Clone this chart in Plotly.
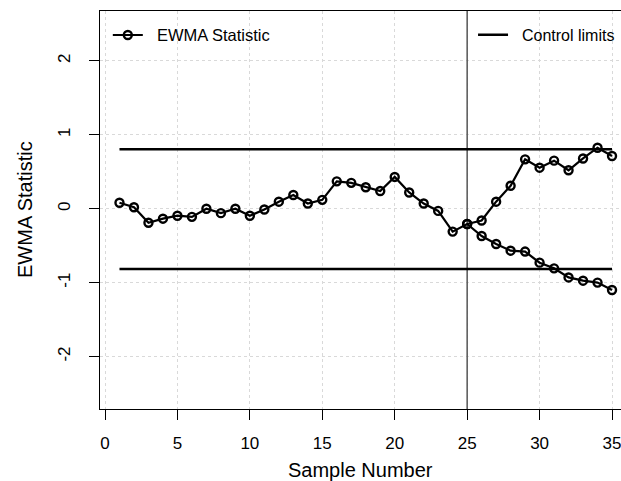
import plotly.graph_objects as go

# ---- data ----
samples = list(range(1, 36))
ewma_values = [0.08, 0.02, -0.19, -0.135, -0.095, -0.11, 0.0, -0.06, 0.0, -0.095,
               -0.01, 0.095, 0.185, 0.07, 0.12, 0.37, 0.35, 0.29, 0.24, 0.43,
               0.22, 0.07, -0.03, -0.31, -0.207, -0.16, 0.095, 0.31, 0.668, 0.555,
               0.65, 0.52, 0.68, 0.825, 0.713]
branch_samples = list(range(25, 36))
branch_values = [-0.207, -0.37, -0.478, -0.568, -0.58, -0.73, -0.807, -0.93, -0.974, -1.0, -1.1]
limit_samples = [1, 35]
ucl = 0.805
lcl = -0.815
reference_sample = 25
x_ticks = [0, 5, 10, 15, 20, 25, 30, 35]
y_ticks = [-2, -1, 0, 1, 2]
x_range = [-0.345, 35.62]
y_range = [-2.71, 2.675]

FONT = "Liberation Sans, Arial, sans-serif"
PAD = "\u00a0\u00a0"

fig = go.Figure()

# vertical reference line at the change sample
fig.add_trace(go.Scatter(x=[reference_sample, reference_sample], y=y_range, mode="lines",
                         line=dict(color="#555555", width=1.5), showlegend=False,
                         hoverinfo="skip"))

# control limits
fig.add_trace(go.Scatter(x=limit_samples, y=[ucl, ucl], mode="lines",
                         line=dict(color="black", width=2.5),
                         name=PAD + "Control limits", legend="legend2", showlegend=True))
fig.add_trace(go.Scatter(x=limit_samples, y=[lcl, lcl], mode="lines",
                         line=dict(color="black", width=2.5),
                         name=PAD + "Control limits", legend="legend2", showlegend=False))

marker = dict(symbol="circle-open", size=8, color="black", line=dict(width=2.4, color="black"))
fig.add_trace(go.Scatter(x=samples, y=ewma_values, mode="lines+markers",
                         line=dict(color="black", width=2.2), marker=marker,
                         name=PAD + "EWMA Statistic", legend="legend", showlegend=True))
fig.add_trace(go.Scatter(x=branch_samples, y=branch_values, mode="lines+markers",
                         line=dict(color="black", width=2.2), marker=marker,
                         name=PAD + "EWMA Statistic", legend="legend", showlegend=False))

fig.update_layout(
    width=621, height=481,
    margin=dict(l=100, r=0, t=11, b=72, autoexpand=False),
    paper_bgcolor="white", plot_bgcolor="white",
    font=dict(family=FONT, color="black", size=16),
    legend=dict(x=0.015, y=0.983, xanchor="left", yanchor="top",
                bgcolor="rgba(0,0,0,0)", font=dict(size=16.5, family=FONT),
                itemwidth=30, tracegroupgap=0),
    legend2=dict(x=0.716, y=0.983, xanchor="left", yanchor="top",
                 bgcolor="rgba(0,0,0,0)", font=dict(size=16, family=FONT),
                 itemwidth=30, tracegroupgap=0),
    annotations=[
        dict(text="Sample Number", xref="paper", yref="paper", x=(360 - 100) / 521, y=-(470 - 409) / 398,
             xanchor="center", yanchor="middle", showarrow=False,
             font=dict(size=20, family=FONT, color="black")),
        dict(text="EWMA Statistic", xref="paper", yref="paper", x=-(100 - 25) / 521, y=0.5,
             xanchor="center", yanchor="middle", showarrow=False, textangle=-90,
             font=dict(size=20, family=FONT, color="black")),
    ],
)

fig.update_xaxes(
    range=x_range, tickvals=x_ticks, ticktext=[str(v) for v in x_ticks],
    ticks="outside", ticklen=10, tickwidth=1, tickcolor="black",
    showline=True, linecolor="black", linewidth=1.2, mirror=True,
    showgrid=True, gridcolor="#d9d9d9", griddash="dot", gridwidth=1,
    zeroline=False, tickfont=dict(size=17, family=FONT), ticklabelstandoff=8,
    ticklabeloverflow="allow", automargin=False,
)
fig.update_yaxes(
    range=y_range, tickvals=y_ticks, ticktext=[str(v) for v in y_ticks],
    ticks="outside", ticklen=10, tickwidth=1, tickcolor="black", tickangle=-90,
    showline=True, linecolor="black", linewidth=1.2, mirror=False,
    showgrid=True, gridcolor="#d9d9d9", griddash="dot", gridwidth=1,
    zeroline=False, tickfont=dict(size=17, family=FONT), ticklabelstandoff=12,
    automargin=False,
)

fig.write_html("out.html", config={"displayModeBar": False},
               post_script="document.body.style.margin='0';document.body.style.overflow='hidden';")
